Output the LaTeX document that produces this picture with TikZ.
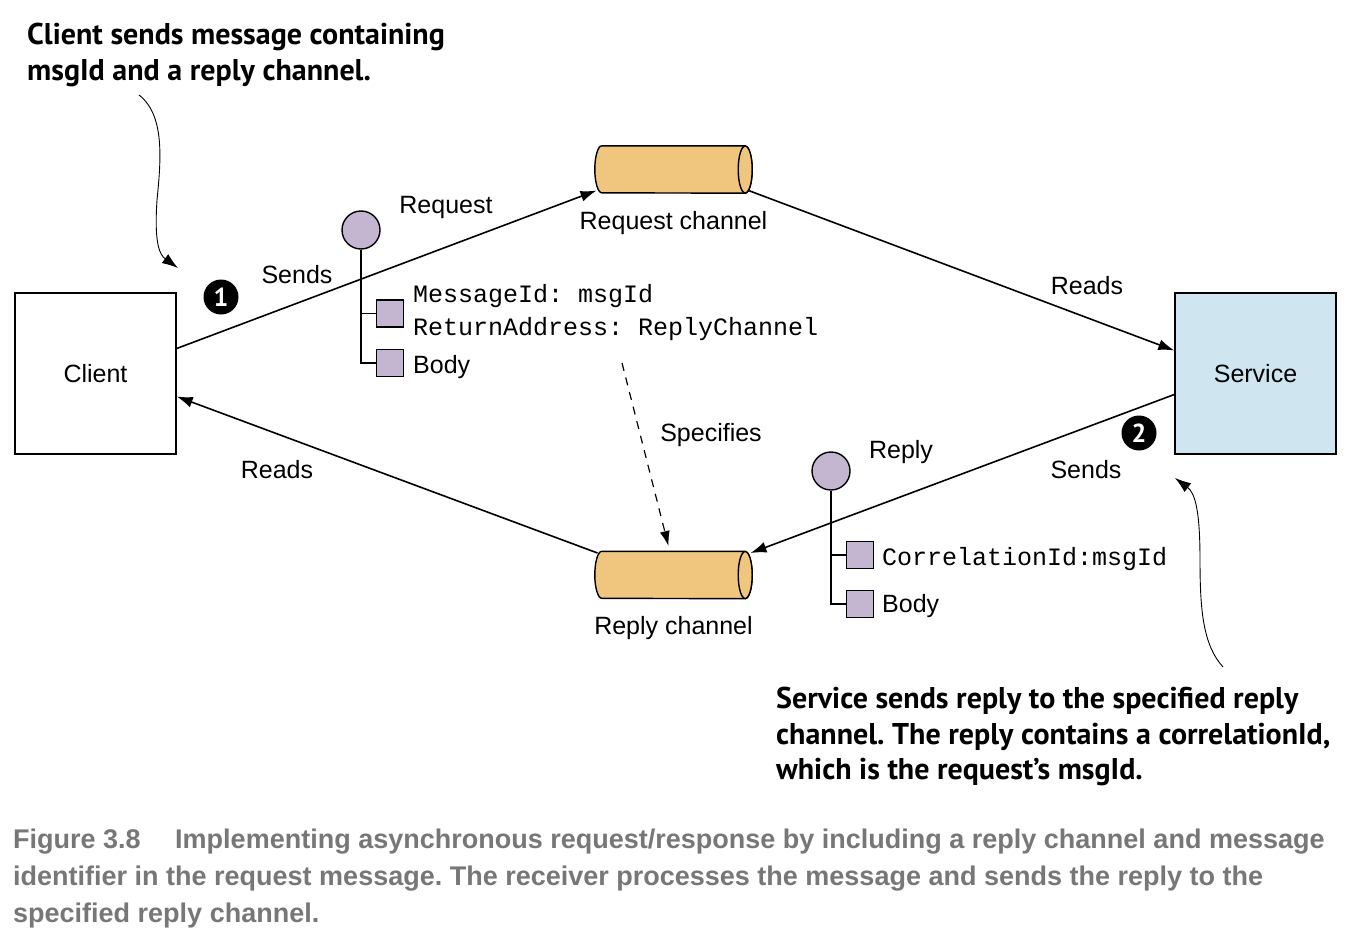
\documentclass[tikz,border=0pt]{standalone}
\usepackage{fontspec}
\setmainfont{Liberation Sans}
\setmonofont{Liberation Mono}
\newfontfamily\annfont{PT Sans}
\usetikzlibrary{arrows.meta,calc}
\definecolor{lav}{HTML}{C4B5D0}
\definecolor{chanorange}{HTML}{F0C67F}
\definecolor{svcblue}{HTML}{CFE6F0}
\definecolor{capgray}{HTML}{777777}
\frenchspacing
\begin{document}
\begin{tikzpicture}[x=1pt,y=-1pt,
  every node/.style={font=\fontsize{25}{30}\selectfont, inner sep=0pt},
  box/.style={draw=black, line width=1.4pt, minimum width=161pt, minimum height=161pt},
  chanbox/.style={rectangle, minimum width=157pt, minimum height=47pt},
  chanline/.style={draw=black, line width=1.4pt, fill=chanorange},
  msgcirc/.style={circle, draw=black, line width=1.4pt, fill=lav, minimum size=38pt},
  field/.style={rectangle, draw=black, line width=1.4pt, fill=lav, minimum size=27pt},
  mono/.style={font=\ttfamily\fontsize{25}{30}\selectfont, anchor=west},
  conn/.style={line width=1.6pt, -{Latex[length=16pt,width=11pt]}},
  tree/.style={line width=1.4pt},
  badge/.style={circle, fill=black, minimum size=35pt, text=white, font=\annfont\bfseries\fontsize{26}{30}\selectfont},
  ann/.style={font=\annfont\bfseries\fontsize{30}{35.5}\selectfont\frenchspacing, align=left, anchor=north west},
  annarrow/.style={line width=0.9pt, -{Latex[length=16pt,width=11pt]}},
  caption/.style={font=\bfseries\fontsize{27}{37}\selectfont\frenchspacing, text=capgray, align=left, anchor=north west}
]
\useasboundingbox (0,0) rectangle (1354,942);

% main nodes
\node[box] (client) at (95.5,373.5) {Client};
\node[box, fill=svcblue] (service) at (1255.5,373.5) {Service};
\node[chanbox] (reqch) at (673.5,169.5) {};
\node[chanbox] (repch) at (673.5,575) {};
\foreach \c in {reqch,repch}{
  \draw[chanline] ($(\c.north east)+(-7,0)$) -- ($(\c.north west)+(7,0)$)
     arc[start angle=90, end angle=270, x radius=7pt, y radius=23.5pt]
     -- ($(\c.south east)+(-7,0)$)
     arc[start angle=270, end angle=450, x radius=7pt, y radius=23.5pt] -- cycle;
  \draw[chanline] ($(\c.east)+(-7,0)$) ellipse[x radius=7pt, y radius=23.5pt];
}
\node (reqlbl) at (673.5,223) {Request channel};
\node (replbl) at (673.5,628) {Reply channel};

% connectors
\draw[conn] ($(client.east)+(0,-25)$) -- ($(reqch.center)+(-77,21)$);
\draw[conn] ($(reqch.center)+(75,21)$) -- ($(service.west)+(0,-23)$);
\draw[conn] ($(service.west)+(0,21)$) -- ($(repch.center)+(77,-22)$);
\draw[conn] ($(repch.center)+(-76,-22)$) -- ($(client.east)+(0,23)$);

% connector labels
\node (lsend1) at (297,275) {Sends};
\node (lreq) at (446,207) {Request};
\node (lread1) at (1087,286) {Reads};
\node (lread2) at (277,470) {Reads};
\node (lsend2) at (1086,470) {Sends};
\node (lrep) at (901,452) {Reply};
\node (lspec) at (711,435) {Specifies};

% badges
\node[badge] (b1) at (221,297) {1};
\node[badge] (b2) at (1139,433) {2};

% request message
\node[msgcirc] (reqmsg) at (361,230) {};
\node[field] (rf1) at (390,313.5) {};
\node[field] (rf2) at (390,363) {};
\draw[tree] (reqmsg.south) |- (rf1.west);
\draw[tree] (reqmsg.south) |- (rf2.west);
\node[mono] (rt1) at (413,296) {MessageId: msgId};
\node[mono] (rt2) at (413,329) {ReturnAddress: ReplyChannel};
\node[anchor=west] (rt3) at (413,367) {Body};

% reply message
\node[msgcirc] (repmsg) at (831,471) {};
\node[field] (pf1) at (860,555) {};
\node[field] (pf2) at (860,604) {};
\draw[tree] (repmsg.south) |- (pf1.west);
\draw[tree] (repmsg.south) |- (pf2.west);
\node[mono] (pt1) at (882,559) {CorrelationId:msgId};
\node[anchor=west] (pt2) at (882,606) {Body};

% specifies dashed arrow
\coordinate (specstart) at (622,363);
\draw[line width=1.2pt, dash pattern=on 8pt off 7pt, -{Latex[length=15pt,width=10pt]}] (specstart) -- ($(repch.center)+(-5,-29)$);

% annotations
\node[ann] (ann1) at (27,23) {Client sends message containing\\msgId and a reply channel.};
\coordinate (a1s) at (139,95);
\coordinate (a1e) at (178,268);
\draw[annarrow] (a1s) .. controls (165,115) and (161,160) .. (157,200) .. controls (154,245) and (160,255) .. (a1e);

\node[ann] (ann2) at (776,687) {Service sends reply to the specified reply\\channel. The reply contains a correlationId,\\which is the request’s msgId.};
\coordinate (a2s) at (1223,667);
\coordinate (a2e) at (1175,478);
\draw[annarrow] (a2s) .. controls (1203,645) and (1200,610) .. (1200,560) .. controls (1200,510) and (1195,493) .. (a2e);

% caption
\node[caption] (cap) at (13,829) {Figure 3.8\quad\ Implementing asynchronous request/response by including a reply channel and message\\identifier in the request message. The receiver processes the message and sends the reply to the\\specified reply channel.};
\end{tikzpicture}
\end{document}
